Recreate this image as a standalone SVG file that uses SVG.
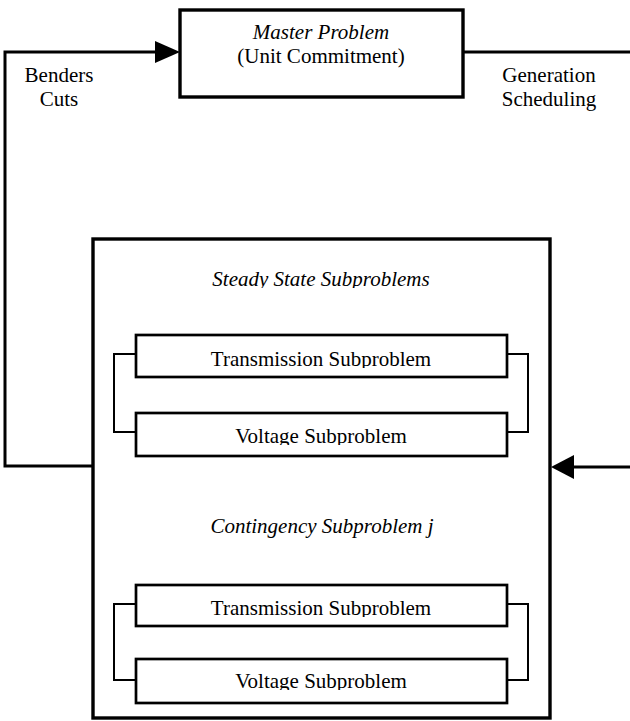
<svg xmlns="http://www.w3.org/2000/svg" width="630" height="721" viewBox="0 0 630 721">
<style>
text{font-family:"Liberation Serif","Times New Roman",serif;font-size:21px;fill:#000;text-anchor:middle}
.it{font-style:italic}
.thick{fill:#fff;stroke:#000;stroke-width:3.4}
.sub{fill:#fff;stroke:#000;stroke-width:2.7}
.ln{fill:none;stroke:#000;stroke-width:3}
.br{fill:none;stroke:#000;stroke-width:2}
</style>
<defs>
<clipPath id="c1"><rect x="0" y="0" width="630" height="288"/></clipPath>
<clipPath id="c2"><rect x="0" y="0" width="630" height="368"/></clipPath>
<clipPath id="c3"><rect x="0" y="0" width="630" height="445"/></clipPath>
<clipPath id="c4"><rect x="0" y="0" width="630" height="617"/></clipPath>
<clipPath id="c5"><rect x="0" y="0" width="630" height="690"/></clipPath>
</defs>
<g id="connectors">
<path class="ln" d="M93,466 H5 V52 H158"/>
<polygon points="155,41 180,52 155,63" fill="#000"/>
<path class="ln" d="M462,52 H630"/>
<path class="ln" d="M630,467 H572"/>
<polygon points="574,455 551,467 574,479" fill="#000"/>
</g>
<g id="benders-label">
<text x="59" y="82">Benders</text>
<text x="59" y="106">Cuts</text>
</g>
<g id="generation-label">
<text x="549" y="82">Generation</text>
<text x="549" y="106">Scheduling</text>
</g>
<g id="master">
<rect class="thick" x="180" y="10" width="283" height="87"/>
<text class="it" x="321" y="39">Master Problem</text>
<text x="321" y="63">(Unit Commitment)</text>
</g>
<g id="subproblems">
<rect class="thick" x="93" y="239" width="457" height="479"/>
<text class="it" x="321" y="286" clip-path="url(#c1)">Steady State Subproblems</text>
<text class="it" x="322" y="533">Contingency Subproblem j</text>
</g>
<g id="ss-brackets">
<path class="br" d="M136,354 H114 V432 H136"/>
<path class="br" d="M507,354 H528 V432 H507"/>
</g>
<g id="ss-transmission">
<rect class="sub" x="136" y="335" width="371" height="42"/>
<text x="321" y="366" clip-path="url(#c2)">Transmission Subproblem</text>
</g>
<g id="ss-voltage">
<rect class="sub" x="136" y="413" width="371" height="43"/>
<text x="321" y="443" clip-path="url(#c3)">Voltage Subproblem</text>
</g>
<g id="ct-brackets">
<path class="br" d="M136,604 H114 V680 H136"/>
<path class="br" d="M507,604 H528 V680 H507"/>
</g>
<g id="ct-transmission">
<rect class="sub" x="136" y="585" width="371" height="41"/>
<text x="321" y="615" clip-path="url(#c4)">Transmission Subproblem</text>
</g>
<g id="ct-voltage">
<rect class="sub" x="136" y="659" width="371" height="44"/>
<text x="321" y="688" clip-path="url(#c5)">Voltage Subproblem</text>
</g>
</svg>
